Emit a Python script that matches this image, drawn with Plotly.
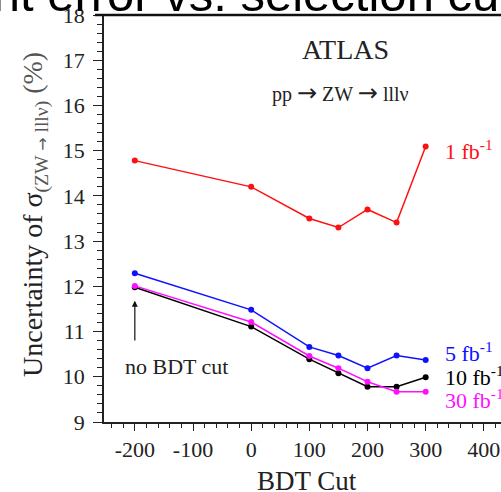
import plotly.graph_objects as go

# BDT cut values and the relative uncertainty (%) for each integrated luminosity
bdt_cut = [-200, 0, 100, 150, 200, 250, 300]
unc_1fb = [14.78, 14.20, 13.50, 13.30, 13.70, 13.41, 15.09]
unc_5fb = [12.29, 11.48, 10.66, 10.47, 10.19, 10.47, 10.37]
unc_10fb = [11.98, 11.11, 10.39, 10.08, 9.78, 9.78, 9.99]
unc_30fb = [12.01, 11.21, 10.46, 10.19, 9.89, 9.67, 9.67]

x_tickvals = [-200, -100, 0, 100, 200, 300, 400]
x_ticktext = ["-200", "-100", "0", "100", "200", "300", "400"]
y_tickvals = [9, 10, 11, 12, 13, 14, 15, 16, 17, 18]

W, H = 501, 492
ML, MR, MT, MB = 104, 0, 15, 70
PW, PH = W - ML - MR, H - MT - MB

SERIF = "Liberation Serif, Times New Roman, serif"
SANS = "Liberation Sans, Arial, sans-serif"


def px(xp):
    return (xp - ML) / PW


def py(yp):
    return (H - MB - yp) / PH


def arrow(size):
    return f"<span style='font-family:DejaVu Sans;font-size:{size}px'>→</span>"


series = [
    (unc_1fb, "#ff1010"),
    (unc_5fb, "#1010ff"),
    (unc_10fb, "#000000"),
    (unc_30fb, "#ff10ff"),
]

fig = go.Figure()
for ys, col in series:
    fig.add_trace(go.Scatter(
        x=bdt_cut, y=ys, mode="lines+markers",
        line=dict(color=col, width=1.5),
        marker=dict(color=col, size=6),
        showlegend=False,
    ))

axis_common = dict(
    showgrid=False, zeroline=False, showline=True,
    linecolor="#222", linewidth=1.5,
    ticks="outside", tickcolor="#222", tickwidth=1.2,
    tickfont=dict(family=SERIF, size=22, color="#222"),
)

fig.update_xaxes(
    range=[-253, 429.5], tickvals=x_tickvals, ticktext=x_ticktext,
    ticklen=7,
    minor=dict(dtick=20, tick0=0, ticks="outside", ticklen=4, tickcolor="#222", tickwidth=1.2),
    **axis_common,
)
fig.update_yaxes(
    range=[9, 18], tickvals=y_tickvals, ticklen=9,
    minor=dict(dtick=0.2, tick0=9, ticks="outside", ticklen=5, tickcolor="#222", tickwidth=1.2),
    ticklabelstandoff=4,
    **axis_common,
)

ann = []
# slide heading above the plot
ann.append(dict(
    text="Measurement error vs. selection cut", x=px(515), y=py(23),
    xref="paper", yref="paper", xanchor="right", yanchor="bottom",
    showarrow=False, font=dict(family=SANS, size=49, color="#000"),
))
# axis titles
ann.append(dict(
    text="BDT Cut", x=px(307), y=py(481), xref="paper", yref="paper",
    xanchor="center", yanchor="middle", showarrow=False,
    font=dict(family=SERIF, size=27, color="#222"),
))
ann.append(dict(
    text=("Uncertainty of σ<sub><span style='color:#555'>(ZW " + arrow(16)
          + " lllν)</span></sub> <span style='color:#555'>(%)</span>"),
    x=px(35), y=py(215), xref="paper", yref="paper",
    xanchor="center", yanchor="middle", textangle=-90, showarrow=False,
    font=dict(family=SERIF, size=28, color="#222"),
))
# experiment and process labels
ann.append(dict(
    text="ATLAS", x=px(345), y=py(49), xref="paper", yref="paper",
    xanchor="center", yanchor="middle", showarrow=False,
    font=dict(family=SERIF, size=28, color="#222"),
))
ann.append(dict(
    text="pp " + arrow(24) + " ZW " + arrow(24) + " lllν",
    x=px(340), y=py(93), xref="paper", yref="paper",
    xanchor="center", yanchor="middle", showarrow=False,
    font=dict(family=SERIF, size=20, color="#222"),
))
# luminosity labels next to each curve
lumi_labels = [
    ("1 fb<sup>-1</sup>", "#ff1010", 150),
    ("5 fb<sup>-1</sup>", "#1010ff", 352),
    ("10 fb<sup>-1</sup>", "#000000", 376),
    ("30 fb<sup>-1</sup>", "#ff10ff", 399),
]
for txt, col, yc in lumi_labels:
    ann.append(dict(
        text=txt, x=px(443), y=py(yc), xref="paper", yref="paper",
        xanchor="left", yanchor="middle", showarrow=False,
        font=dict(family=SERIF, size=22, color=col),
    ))
# marker for the no-cut point
ann.append(dict(
    text="", x=-200, y=11.68, ax=-200, ay=10.77, xref="x", yref="y",
    axref="x", ayref="y", showarrow=True, arrowhead=2, arrowsize=1,
    arrowwidth=1.2, arrowcolor="#111",
))
ann.append(dict(
    text="no BDT cut", x=px(123), y=py(366), xref="paper", yref="paper",
    xanchor="left", yanchor="middle", showarrow=False,
    font=dict(family=SERIF, size=22, color="#222"),
))

fig.update_layout(
    width=W, height=H,
    margin=dict(l=ML, r=MR, t=MT, b=MB, pad=0),
    paper_bgcolor="white", plot_bgcolor="white",
    annotations=ann,
    shapes=[dict(
        type="line", xref="paper", yref="paper",
        x0=px(95), x1=1.0, y0=py(15), y1=py(15),
        line=dict(color="#111", width=2.5),
    )],
)

fig.write_html("out.html")
